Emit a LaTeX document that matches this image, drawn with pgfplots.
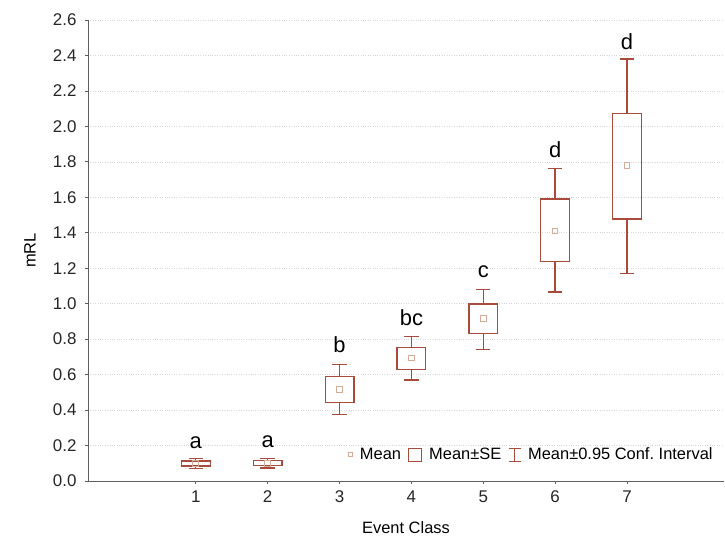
\documentclass[border=0pt]{standalone}
\usepackage{fontspec}
\setmainfont{Liberation Sans}
\usepackage{pgfplots}
\pgfplotsset{compat=1.18}
\usepgfplotslibrary{statistics}
\definecolor{boxcol}{RGB}{168,74,60}
\definecolor{meancol}{RGB}{214,172,152}
\definecolor{axcol}{RGB}{95,95,95}

\begin{document}
\begin{tikzpicture}
\begin{axis}[
  scale only axis, width=636bp, height=461bp,
  xmin=-0.5, xmax=8.35, ymin=0, ymax=2.6,
  axis x line*=bottom, axis y line*=left,
  axis line style={draw=axcol, line width=0.9pt, -},
  xtick={1,2,3,4,5,6,7},
  ytick={0,0.2,0.4,0.6,0.8,1.0,1.2,1.4,1.6,1.8,2.0,2.2,2.4,2.6},
  yticklabel style={/pgf/number format/fixed, /pgf/number format/fixed zerofill, /pgf/number format/precision=1, xshift=-5bp},
  xticklabel style={yshift=-3bp},
  /pgf/number format/assume math mode=true,
  tick label style={font=\fontsize{17}{19}\selectfont, text=black!85},
  tick style={draw=axcol, line width=0.8pt}, major tick length=3bp, tick align=outside,
  ymajorgrids, grid style={dotted, black!16, line width=0.6pt},
  xlabel={Event Class}, ylabel={mRL},
  label style={font=\fontsize{16.5}{18}\selectfont},
  xlabel style={at={([yshift=-47bp]axis description cs:0.5,0)}, anchor=center},
  ylabel style={at={([xshift=-58bp]axis description cs:0,0.5)}, anchor=center},
  clip=false,
  boxplot/draw direction=y,
  boxplot/box extend=0.4,
  boxplot/whisker extend=0.2,
  boxplot/draw/median/.code={},
  legend columns=3,
  legend style={at={(rel axis cs:0.984,0.057)}, anchor=east, draw=none, fill=none,
    inner sep=0pt,
    font=\fontsize{16.5}{18}\selectfont,
    nodes={inner sep=1bp},
    /tikz/every odd column/.append style={column sep=6bp},
    /tikz/every even column/.append style={column sep=6bp}},
]
% Mean +- SE boxes, Mean +- 0.95 CI whiskers
\addplot[boxcol, line width=1.3bp, forget plot, boxplot prepared={draw position=1,
  lower whisker=0.072, lower quartile=0.085, median=0.098, upper quartile=0.112, upper whisker=0.125}] coordinates {};
\addplot[boxcol, line width=1.3bp, forget plot, boxplot prepared={draw position=2,
  lower whisker=0.074, lower quartile=0.087, median=0.100, upper quartile=0.114, upper whisker=0.128}] coordinates {};
\addplot[boxcol, line width=1.3bp, forget plot, boxplot prepared={draw position=3,
  lower whisker=0.376, lower quartile=0.444, median=0.517, upper quartile=0.588, upper whisker=0.658}] coordinates {};
\addplot[boxcol, line width=1.3bp, forget plot, boxplot prepared={draw position=4,
  lower whisker=0.570, lower quartile=0.628, median=0.694, upper quartile=0.754, upper whisker=0.814}] coordinates {};
\addplot[boxcol, line width=1.3bp, forget plot, boxplot prepared={draw position=5,
  lower whisker=0.743, lower quartile=0.833, median=0.918, upper quartile=0.998, upper whisker=1.081}] coordinates {};
\addplot[boxcol, line width=1.3bp, forget plot, boxplot prepared={draw position=6,
  lower whisker=1.066, lower quartile=1.239, median=1.410, upper quartile=1.590, upper whisker=1.761}] coordinates {};
\addplot[boxcol, line width=1.3bp, forget plot, boxplot prepared={draw position=7,
  lower whisker=1.169, lower quartile=1.478, median=1.778, upper quartile=2.072, upper whisker=2.380}] coordinates {};
% Means
\addplot[only marks, mark=square, mark size=2.8bp, mark options={draw=meancol, line width=1pt}, forget plot]
  coordinates {(1,0.098) (2,0.100) (3,0.517) (4,0.694) (5,0.918) (6,1.410) (7,1.778)};
% Letters
\node[anchor=base, font=\fontsize{22}{24}\selectfont] at (axis cs:1,0.185) {a};
\node[anchor=base, font=\fontsize{22}{24}\selectfont] at (axis cs:2,0.188) {a};
\node[anchor=base, font=\fontsize{22}{24}\selectfont] at (axis cs:3,0.725) {b};
\node[anchor=base, font=\fontsize{22}{24}\selectfont] at (axis cs:4,0.878) {bc};
\node[anchor=base, font=\fontsize{22}{24}\selectfont] at (axis cs:5,1.145) {c};
\node[anchor=base, font=\fontsize{22}{24}\selectfont] at (axis cs:6,1.823) {d};
\node[anchor=base, font=\fontsize{22}{24}\selectfont] at (axis cs:7,2.435) {d};
% Legend
\addlegendimage{legend image code/.code={\draw[meancol, line width=0.9pt] (0bp,-2.2bp) rectangle (4.4bp,2.2bp);}}
\addlegendentry{Mean}
\addlegendimage{legend image code/.code={\draw[boxcol, line width=1.1pt] (0bp,-6.5bp) rectangle (13bp,6.5bp);}}
\addlegendentry{Mean±SE}
\addlegendimage{legend image code/.code={\draw[boxcol, line width=0.9pt] (0bp,-6.5bp) -- (12bp,-6.5bp) (0bp,6.5bp) -- (12bp,6.5bp) (6bp,-6.5bp) -- (6bp,6.5bp);}}
\addlegendentry{Mean±0.95 Conf.\ Interval}
% bounding box
\path ([xshift=-88bp,yshift=-59bp]rel axis cs:0,0) rectangle ([xshift=1bp,yshift=20bp]rel axis cs:1,1);
\end{axis}
\end{tikzpicture}
\end{document}
